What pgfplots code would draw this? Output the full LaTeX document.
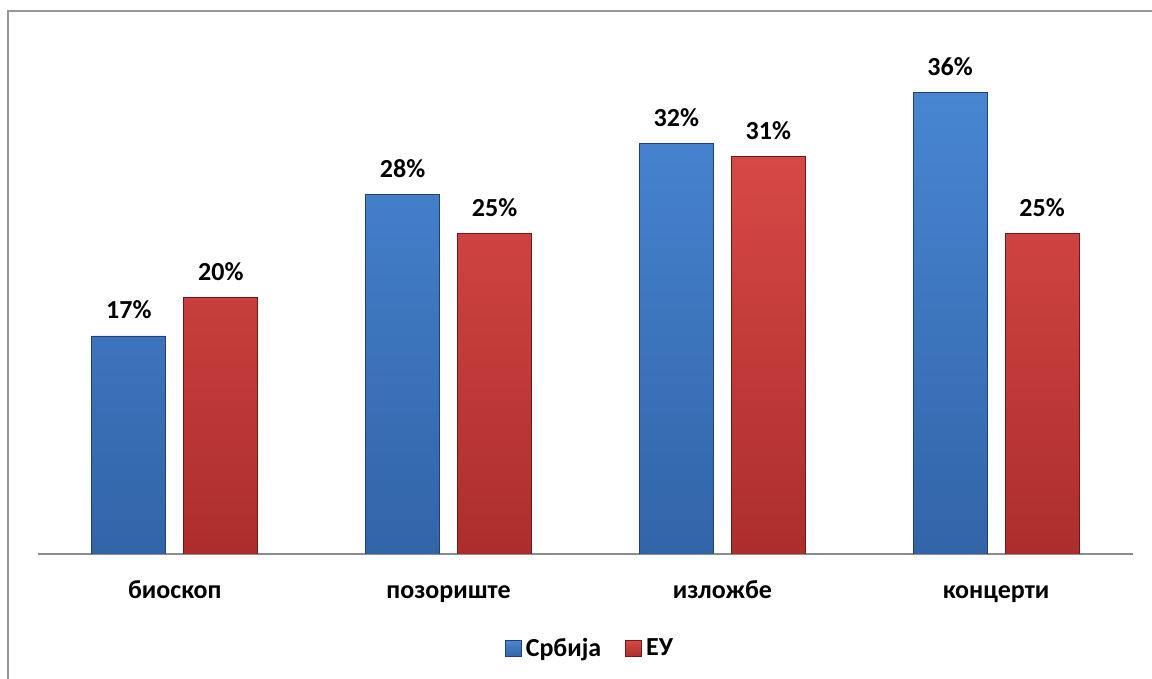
\documentclass[border=0pt]{standalone}
\usepackage{pgfplots}
\pgfplotsset{compat=1.18}
\usepackage{fontspec}
\setmainfont{Carlito}
\definecolor{srbtop}{RGB}{72,134,210}
\definecolor{srbbot}{RGB}{50,100,168}
\definecolor{srbedge}{RGB}{30,66,120}
\definecolor{eutop}{RGB}{214,72,70}
\definecolor{eubot}{RGB}{172,46,44}
\definecolor{euedge}{RGB}{110,24,24}
\definecolor{framegray}{RGB}{150,150,150}
\definecolor{axisgray}{RGB}{140,140,140}

\begin{document}
\begin{tikzpicture}
\useasboundingbox (0,0) rectangle (576pt,339.5pt);
\clip (0,0) rectangle (576pt,339.5pt);
\draw[framegray, line width=1pt] (4pt,-5pt) rectangle (590pt,334pt);
\begin{axis}[
    at={(19pt,62.5pt)}, anchor=south west,
    scale only axis,
    width=547.5pt, height=256.5pt,
    ybar=9pt,
    bar width=37pt,
    xmin=-0.5, xmax=3.5,
    ymin=0, ymax=40,
    axis x line*=bottom,
    axis y line=none,
    axis line style={-, axisgray, line width=1pt},
    xtick=data,
    xticklabels={биоскоп, позориште, изложбе, концерти},
    xticklabel style={font=\bfseries\fontsize{13}{15}\selectfont, anchor=base, yshift=-22.5pt},
    major tick length=0pt,
    ytick=\empty,
    nodes near coords={\pgfmathprintnumber[assume math mode=true]{\pgfplotspointmeta}\%},
    every node near coord/.append style={font=\bfseries\fontsize{13}{15}\selectfont, black, yshift=5pt},
    legend columns=2,
    legend style={at={(0.505,-0.185)}, anchor=center, draw=none, fill=none,
        font=\bfseries\fontsize{13}{15}\selectfont,
        /tikz/every even column/.append style={column sep=10pt}},
    legend cell align=left,
]
\addplot[draw=srbedge, top color=srbtop, bottom color=srbbot,
    legend image code/.code={\fill[top color=srbtop, bottom color=srbbot, draw=srbedge] (0pt,-4pt) rectangle (8pt,4pt);}]
    coordinates {(0,17) (1,28) (2,32) (3,36)};
\addplot[draw=euedge, top color=eutop, bottom color=eubot,
    legend image code/.code={\fill[top color=eutop, bottom color=eubot, draw=euedge] (0pt,-4pt) rectangle (8pt,4pt);}]
    coordinates {(0,20) (1,25) (2,31) (3,25)};
\legend{Србија, ЕУ}
\end{axis}
\end{tikzpicture}
\end{document}
